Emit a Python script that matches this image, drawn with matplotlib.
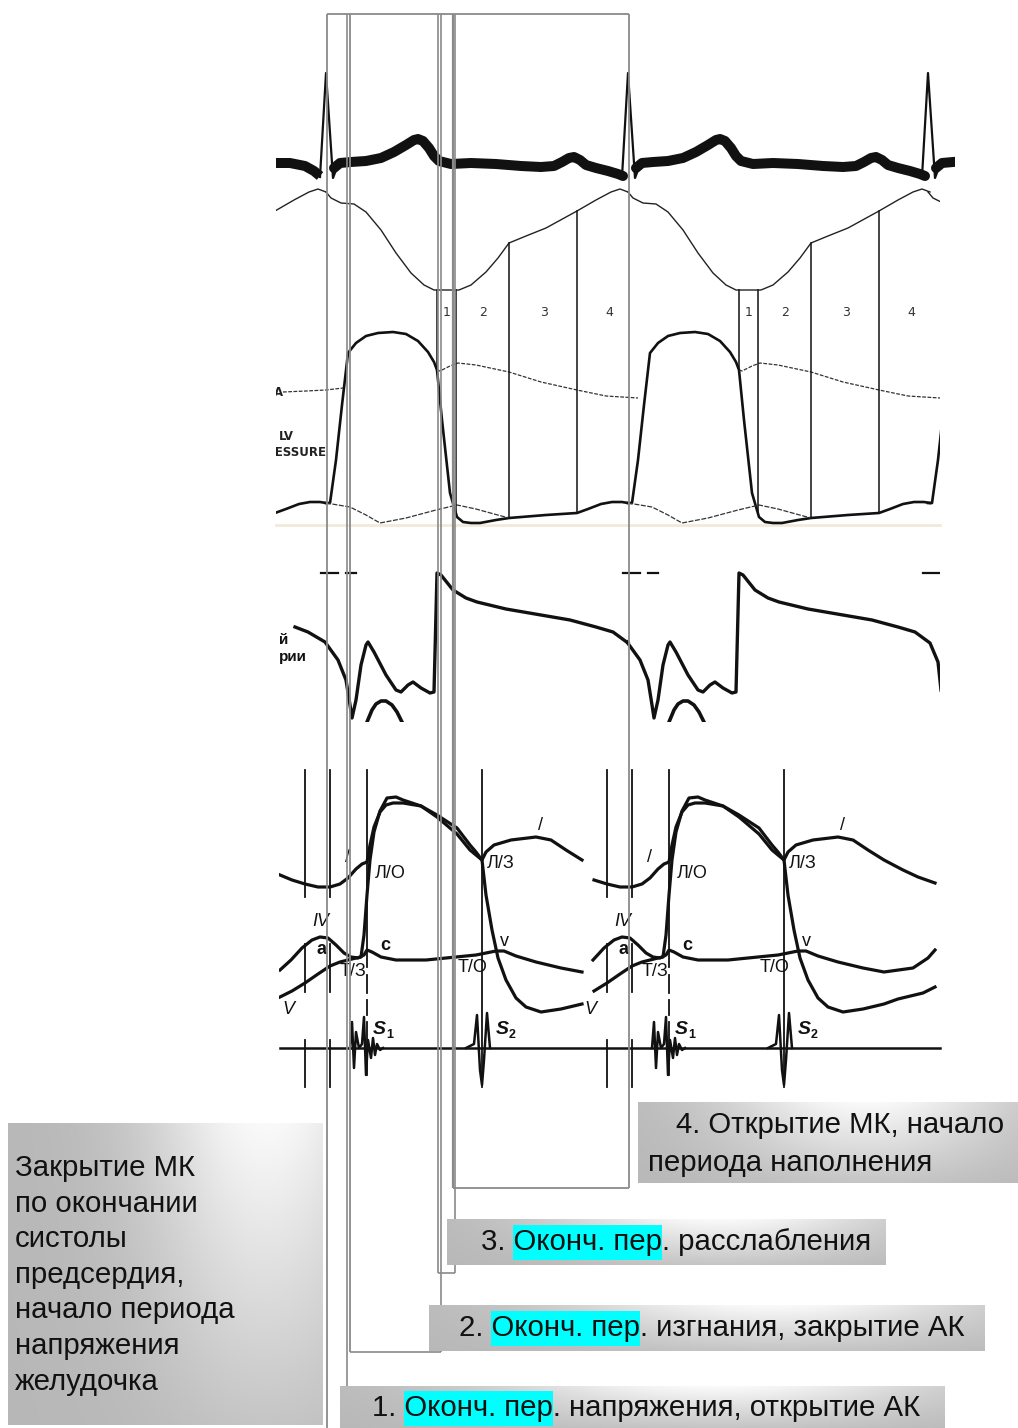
import numpy as np
import matplotlib
matplotlib.use("Agg")
import matplotlib.pyplot as plt
from matplotlib.patches import Rectangle
from matplotlib.transforms import Bbox, TransformedBbox

# ---------------- data (cycle-relative time t = x - R-peak position) ----------------
ECG_ORIGINS = [24, 326, 628, 928]
CYCLE_ORIGINS = [326, 628]

# ECG (thick band between QRS complexes)
ECG_T = [8, 14, 25, 40, 55, 68, 80, 88, 92, 97, 103, 108, 113, 125, 145, 170, 195, 215, 228, 236, 243, 248, 254, 260, 270, 282, 292, 297]
ECG_Y = [168, 163, 162, 161, 158, 152, 145, 140, 139, 141, 148, 156, 161, 164, 163, 164, 166, 167, 166, 162, 158, 157, 160, 165, 168, 171, 174, 176]
QRS_T = [-6, 0, 7, 10]
QRS_Y = [177, 73, 178, 170]
ECG_LEAD_X = [276, 290, 305, 314, 320]
ECG_LEAD_Y = [163, 163, 166, 171, 176]

# LV volume curve
VOL_T = [0, 5, 15, 28, 40, 55, 70, 85, 98, 108, 133, 145, 160, 172, 183, 200, 220, 251, 270, 285, 294, 302]
VOL_Y = [192, 198, 203, 204, 212, 230, 253, 273, 285, 290, 290, 285, 272, 258, 243, 236, 228, 211, 200, 192, 189, 192]

# LV pressure (upper panel)
LV1_T = [0, 4, 10, 16, 22, 30, 40, 52, 67, 80, 92, 102, 108, 111, 116, 124, 131, 137, 145, 154, 170, 183, 220, 251, 262, 275, 286, 296, 302]
LV1_Y = [503, 503, 460, 405, 353, 343, 336, 333, 332, 334, 341, 352, 362, 370, 420, 493, 517, 522, 523, 523, 520, 518, 515, 513, 509, 504, 502, 502, 503]

# atrial pressure (upper panel, thin)
LA1_T = [0, 12, 24, 40, 54, 80, 110, 131, 150, 168, 183]
LA1_Y = [503, 505, 507, 515, 523, 518, 510, 505, 509, 514, 518]

# aortic pressure (upper panel, dotted)
AO1_T = [111, 114, 124, 132, 150, 183, 215, 251, 280, 312]
AO1_Y = [370, 371, 366, 363, 365, 372, 382, 390, 396, 398]
AO1_PRE_T = [-43, -20, 0, 17]
AO1_PRE_Y = [392, 391, 390, 388]
AO1_PRE_START = [-43, 7]

# phase boundaries and labels (upper panel)
PHASE_T = [111, 130, 183, 251]
PHASE_LABEL_T = [121, 157, 218, 283]
PHASE_LABELS = ["1", "2", "3", "4"]

# middle panel: aortic pressure
P2_T = [-31, -18, -1, 12, 20, 24, 26, 30, 35, 40, 42, 48, 60, 70, 75, 82, 87, 95, 104, 108, 111, 115, 127, 140, 151, 180, 244, 270, 287, 302, 310, 313]
P2_Y = [627, 632, 642, 660, 680, 705, 718, 700, 665, 645, 642, 652, 675, 690, 692, 685, 682, 688, 693, 692, 573, 575, 590, 598, 602, 609, 620, 627, 632, 643, 662, 690]
P2_RANGE = [(-31, 302), (-1, 313)]
ARC_T = [41, 46, 50, 55, 60, 66, 71, 76]
ARC_Y = [722, 710, 704, 701, 701, 705, 712, 722]
DASH_T = [(-5, 12), (20, 30)]

# lower panel: pressures
AO3_T = [-46, -34, -21, -8, 4, 14, 22, 30, 36, 41, 44, 48, 54, 60, 67, 77, 95, 111, 131, 144, 150, 156, 160, 168, 185, 210, 225, 240, 256, 275, 290, 307]
AO3_Y = [875, 880, 884, 887, 887, 884, 878, 869, 864, 862, 845, 827, 812, 805, 803, 803, 806, 817, 834, 850, 855, 860, 852, 845, 840, 837, 840, 850, 860, 870, 877, 883]
LV3_T = [-46, -34, -21, -8, 4, 14, 22, 30, 35, 38, 41, 44, 48, 54, 61, 70, 77, 95, 111, 131, 144, 150, 156, 160, 166, 172, 180, 190, 200, 215, 235, 256, 270, 295, 307]
LV3_Y = [997, 991, 983, 974, 966, 962, 960, 958, 957, 935, 895, 860, 832, 811, 798, 797, 800, 806, 815, 828, 845, 852, 860, 895, 930, 958, 980, 998, 1007, 1012, 1009, 1004, 999, 993, 987]
LA3_T = [-46, -35, -24, -14, -6, 2, 10, 18, 25, 32, 38, 41, 46, 55, 70, 100, 130, 150, 160, 170, 178, 190, 210, 235, 256, 285, 300, 307]
LA3_Y = [970, 960, 948, 940, 937, 938, 945, 953, 957, 958, 955, 950, 952, 957, 960, 960, 957, 955, 953, 951, 951, 956, 962, 968, 972, 968, 958, 950]
P3_RANGE = [(-46, 256), (-45, 310)]

# heart sounds
SND_BASE = 1048
S1_T = [24, 26, 28, 30, 33, 36, 38, 40, 42, 45, 47, 49, 51, 54, 57]
S1_Y = [1048, 1022, 1068, 1032, 1048, 1044, 1017, 1075, 1040, 1058, 1038, 1055, 1044, 1050, 1048]
S2_T = [140, 148, 151, 154, 156, 158, 161, 164]
S2_Y = [1048, 1044, 1015, 1070, 1085, 1060, 1013, 1048]

# lower-panel event lines (t, segments)
VL3 = [(-21, [(770, 897), (944, 992), (1040, 1087)]),
       (4, [(770, 897), (944, 992), (1040, 1087)]),
       (41, [(770, 967), (975, 993), (1000, 1015), (1022, 1075)]),
       (156, [(770, 1087)])]

# lower-panel labels: (text, t, y, style)
LABELS3 = [("Л/О", 49, 873, "n"), ("Л/З", 161, 863, "n"), ("Т/З", 14, 972, "n"),
           ("Т/О", 132, 967, "n"), ("c", 54, 945, "b"), ("a", -9, 949, "b"),
           ("v", 174, 941, "n"), ("IV", -14, 921, "i"), ("V", -44, 1010, "i"),
           ("/", 19, 857, "n"), ("/", 212, 826, "n")]

# annotation texts
LEFT_LINES = ["Закрытие МК", "по окончании", "систолы", "предсердия,",
              "начало периода", "напряжения", "желудочка"]
BOX4_LINES = ["4. Открытие МК, начало", "периода наполнения"]
HL = "Оконч. пер"
BOX_RUNS = [("3. ", ". расслабления"), ("2. ", ". изгнания, закрытие АК"),
            ("1. ", ". напряжения, открытие АК")]

# ---------------- figure ----------------
W, H = 1018, 1428
fig = plt.figure(figsize=(W / 100, H / 100), dpi=100)
ax = fig.add_axes([0, 0, 1, 1])
ax.set_xlim(0, W)
ax.set_ylim(H, 0)
ax.axis("off")
FONT = "Liberation Sans"
BLACK = "#111111"


def clip_rect(x0, y0, x1, y1):
    return Rectangle((x0, y0), x1 - x0, y1 - y0, transform=ax.transData)


def draw(tt, yy, origin, lo=-1e9, hi=1e9, clip=None, **kw):
    tt = np.asarray(tt, float)
    yy = np.asarray(yy, float)
    m = (tt >= lo) & (tt <= hi)
    ln, = ax.plot(origin + tt[m], yy[m], **kw)
    if clip is not None:
        ln.set_clip_path(clip)
    return ln


# ---------- panel 1 ----------
c_ecg = clip_rect(276, 55, 955, 527)
c_p1 = clip_rect(276, 55, 940, 527)
ax.plot(ECG_LEAD_X, ECG_LEAD_Y, lw=7.2, color=BLACK, solid_capstyle="butt",
        solid_joinstyle="round", zorder=2)
for o in ECG_ORIGINS[1:]:
    draw(ECG_T, ECG_Y, o, clip=c_ecg, lw=7.2, color=BLACK, solid_capstyle="round",
         solid_joinstyle="round", zorder=2)
    draw(QRS_T, QRS_Y, o, clip=c_ecg, lw=1.6, color=BLACK, zorder=2)
for o in ECG_ORIGINS:
    draw(VOL_T, VOL_Y, o, clip=c_p1, lw=1.0, color="#222222", zorder=2)
    draw(LV1_T, LV1_Y, o, clip=c_p1, lw=1.9, color=BLACK, zorder=2)

for i, o in enumerate(CYCLE_ORIGINS):
    draw(LA1_T, LA1_Y, o, clip=c_p1, lw=0.9, color="#333333", ls=(0, (4, 1.2)), zorder=2)
    draw(AO1_T, AO1_Y, o, clip=c_p1, lw=0.9, color="#333333", ls=(0, (3, 1.2)), zorder=2)
    draw(AO1_PRE_T, AO1_PRE_Y, o, lo=AO1_PRE_START[i], clip=c_p1, lw=0.9,
         color="#333333", ls=(0, (3, 1.2)), zorder=2)
    for t in PHASE_T:
        ytop = np.interp(t, VOL_T, VOL_Y)
        ybot = np.interp(t, LV1_T, LV1_Y)
        ax.plot([o + t, o + t], [ytop, ybot], lw=1.1, color=BLACK, zorder=2)
    for t, s in zip(PHASE_LABEL_T, PHASE_LABELS):
        ax.text(o + t, 312, s, fontsize=9, family="DejaVu Sans", color="#333333",
                ha="center", va="center", zorder=2)

ax.plot([276, 940], [525, 525], lw=2, color="#f1e9da", zorder=1)
lab_box = TransformedBbox(Bbox([[276, 380], [420, 470]]), ax.transData)
for txt, x, y, ha in [("A", 283, 393, "right"), ("LV", 279, 437, "left"),
                      ("PRESSURE", 327, 452, "right")]:
    t = ax.text(x, y, txt, fontsize=8.5, fontweight="bold", family="DejaVu Sans",
                ha=ha, va="center", color="#222222", zorder=2, clip_on=True)
    t.set_clip_box(lab_box)

# ---------- panel 2 ----------
c_p2 = clip_rect(278, 565, 940, 722)
for i, o in enumerate(CYCLE_ORIGINS):
    lo, hi = P2_RANGE[i]
    draw(P2_T, P2_Y, o, lo=lo, hi=hi, clip=c_p2, lw=2.4, color=BLACK, zorder=2,
         solid_joinstyle="round")
    draw(ARC_T, ARC_Y, o, clip=c_p2, lw=2.6, color=BLACK, zorder=2)
for o in ECG_ORIGINS[1:]:
    for a, b in DASH_T:
        ln, = ax.plot([o + a, o + b], [573, 573], lw=1.6, color=BLACK, zorder=2)
        ln.set_clip_path(c_p2)
for txt, y in [("й", 640), ("рии", 657)]:
    ax.text(279, y, txt, fontsize=11, fontweight="bold", family=FONT, ha="left",
            va="center", color=BLACK, zorder=2)

# ---------- panel 3 ----------
c_p3 = clip_rect(279, 760, 940, 1090)
ax.plot([280, 940], [SND_BASE, SND_BASE], lw=1.8, color=BLACK, zorder=2)
for i, o in enumerate(CYCLE_ORIGINS):
    lo, hi = P3_RANGE[i]
    for tt, yy in [(AO3_T, AO3_Y), (LV3_T, LV3_Y), (LA3_T, LA3_Y)]:
        draw(tt, yy, o, lo=lo, hi=hi, clip=c_p3, lw=2.3, color=BLACK, zorder=2,
             solid_joinstyle="round")
    draw(S1_T, S1_Y, o, lw=1.8, color=BLACK, zorder=2)
    draw(S2_T, S2_Y, o, lw=1.8, color=BLACK, zorder=2)
    for t, segs in VL3:
        for y0, y1 in segs:
            ax.plot([o + t, o + t], [y0, y1], lw=1.3, color=BLACK, zorder=2)
    for txt, t, y, st in LABELS3:
        kw = dict(fontsize=13, family=FONT, ha="left", va="center", color=BLACK, zorder=2)
        if st == "b":
            kw["fontweight"] = "bold"
        if st == "i":
            kw["fontstyle"] = "italic"
        ax.text(o + t, y, txt, **kw)
    for tx, lab in [(47, "1"), (170, "2")]:
        ax.text(o + tx, 1030, "S", fontsize=14, fontweight="bold", fontstyle="italic",
                family=FONT, ha="left", va="center", color=BLACK, zorder=2)
        ax.text(o + tx + 13, 1035, lab, fontsize=9, fontweight="bold",
                family=FONT, ha="left", va="center", color=BLACK, zorder=2)

# ---------- gray overlay frames ----------
GRAY = "#8a8a8a"
SEGS = [((327, 14), (629, 14), 1.3), ((327, 14), (327, 1428), 1.3), ((629, 14), (629, 1188), 1.3),
        ((453, 1188), (629, 1188), 1.3), ((453, 14), (453, 1188), 1.6),
        ((438, 14), (438, 1273), 1.2), ((455, 14), (455, 1273), 1.2), ((438, 1273), (455, 1273), 1.2),
        ((350, 14), (350, 1352), 1.3), ((441, 14), (441, 1352), 1.2), ((350, 1352), (441, 1352), 1.2),
        ((347, 14), (347, 1428), 1.2)]
for (xa, ya), (xb, yb), lw in SEGS:
    ax.plot([xa, xb], [ya, yb], lw=lw, color=GRAY, zorder=3, solid_capstyle="butt")


# ---------- annotation boxes ----------
def gbox(x0, y0, x1, y1, cx, light=0.98, dark=0.72):
    w, h = int(x1 - x0), int(y1 - y0)
    X, Y = np.meshgrid(np.linspace(0, 1, w), np.linspace(0, 1, h))
    wgt = np.exp(-((X - cx) / 0.38) ** 2) * (1 - 0.8 * Y)
    v = dark + (light - dark) * wgt
    img = np.dstack([v, v, v])
    ax.imshow(img, extent=(x0, x1, y1, y0), origin="upper", aspect="auto",
              interpolation="bilinear", zorder=4)


gbox(8, 1123, 323, 1425, 0.82)
gbox(638, 1102, 1018, 1183, 0.6)
gbox(447, 1219, 886, 1265, 0.62)
gbox(429, 1305, 985, 1351, 0.62)
gbox(340, 1386, 945, 1428, 0.62)

r = fig.canvas.get_renderer()


def width(s, fs):
    t = ax.text(0, 0, s, fontsize=fs, family=FONT)
    w = t.get_window_extent(renderer=r).width
    t.remove()
    return w


fs_box = 20 * 548 / width("1. " + HL + ". напряжения, открытие АК", 20)
fs_left = 20 * 219 / width("начало периода", 20)

for (pre, post), x0, yc in zip(BOX_RUNS, [481, 459, 372], [1242, 1328, 1408]):
    xs = x0 + width(pre + HL[0], fs_box) - width(HL[0], fs_box)
    xe = x0 + width(pre + HL, fs_box)
    ax.add_patch(Rectangle((xs, yc - 17), xe - xs, 35, color="#00ffff", zorder=5, lw=0))
    ax.text(x0, yc, pre + HL + post, fontsize=fs_box, family=FONT, ha="left",
            va="center", color=BLACK, zorder=6)

for s, x0, yc in zip(BOX4_LINES, [676, 648], [1125, 1163]):
    ax.text(x0, yc, s, fontsize=fs_box, family=FONT, ha="left", va="center",
            color=BLACK, zorder=6)

for i, s in enumerate(LEFT_LINES):
    ax.text(15, 1168 + i * 35.6, s, fontsize=fs_left, family=FONT, ha="left",
            va="center", color=BLACK, zorder=6)

ax.set_xlim(0, W)
ax.set_ylim(H, 0)
fig.savefig("out.png", dpi=100)
